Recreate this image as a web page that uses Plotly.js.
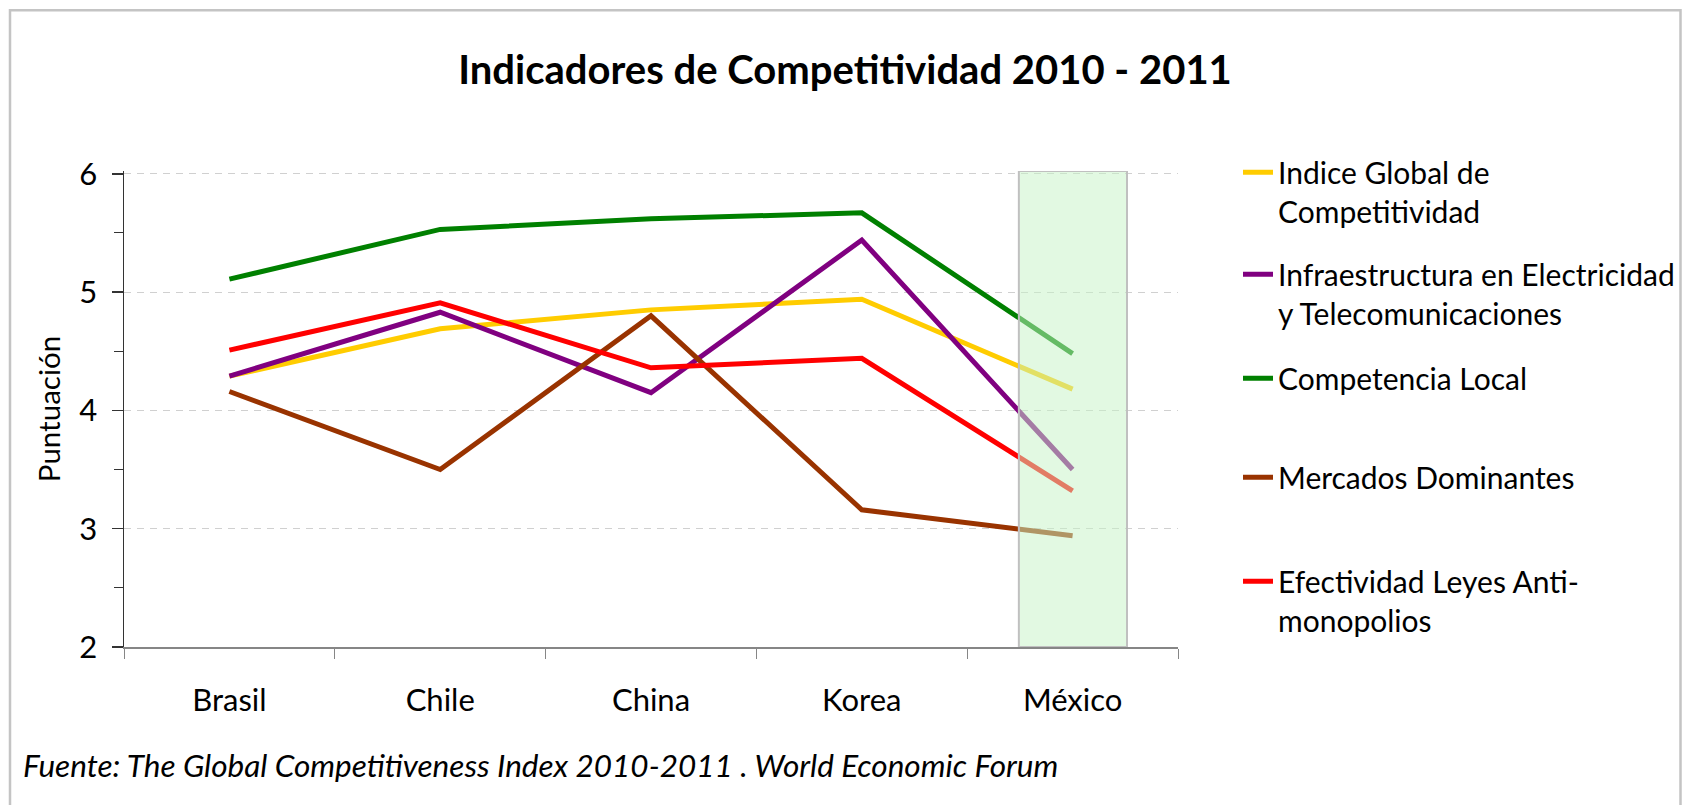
<!DOCTYPE html>
<html>
<head>
<meta charset="utf-8">
<script src="https://cdn.plot.ly/plotly-3.0.1.min.js"></script>
<style>html,body{margin:0;padding:0;background:#fff;}#chart{width:1682px;height:805px;}</style>
</head>
<body>
<div id="chart"></div>
<script>
const categories = ['Brasil', 'Chile', 'China', 'Korea', 'México'];
const indiceGlobal = [4.29, 4.69, 4.85, 4.94, 4.18];
const infraestructura = [4.29, 4.83, 4.15, 5.44, 3.50];
const competenciaLocal = [5.11, 5.53, 5.62, 5.67, 4.48];
const mercadosDominantes = [4.16, 3.50, 4.80, 3.16, 2.94];
const efectividadLeyes = [4.51, 4.91, 4.36, 4.44, 3.32];
const yTickValues = [2, 3, 4, 5, 6];
const yTickLabels = ['2', '3', '4', '5', '6'];

const seriesNames = [
  'Indice Global de<br>Competitividad',
  'Infraestructura en Electricidad<br>y Telecomunicaciones',
  'Competencia Local',
  'Mercados Dominantes',
  'Efectividad Leyes Anti-<br>monopolios'
];
const seriesValues = [indiceGlobal, infraestructura, competenciaLocal, mercadosDominantes, efectividadLeyes];
const seriesColors = ['#FFCC00', '#800080', '#008000', '#993300', '#FF0000'];
const legendIds = ['legend', 'legend2', 'legend3', 'legend4', 'legend5'];
const highlightCategory = 'México';

const FONT = 'Lato, "Open Sans", sans-serif';

const traces = seriesValues.map((vals, i) => ({
  type: 'scatter',
  mode: 'lines',
  x: categories,
  y: vals,
  name: seriesNames[i],
  legend: legendIds[i],
  line: {color: seriesColors[i], width: 5},
  hoverinfo: 'skip'
}));

// plot area pixel geometry
const YMAX = 6.024;
const L = 124, R = 1178, T = 170.7, B = 646.7;
const W = R - L, H = B - T;
const px = p => (p - L) / W;
const py = p => (B - p) / H;

const legendTops = [146, 248, 352, 451, 555];
const layout = {
  width: 1682,
  height: 805,
  margin: {l: L, r: 1682 - R, t: T, b: 805 - B, pad: 0, autoexpand: false},
  paper_bgcolor: '#ffffff',
  plot_bgcolor: '#ffffff',
  font: {family: FONT, size: 30, color: '#000000'},
  title: {
    text: '<b>Indicadores de Competitividad 2010 - 2011</b>',
    font: {family: FONT, size: 40, color: '#000000'},
    x: 845 / 1682,
    xanchor: 'center',
    xref: 'container',
    yref: 'container',
    y: 1 - 70 / 805,
    yanchor: 'middle'
  },
  xaxis: {
    type: 'category',
    range: [-0.5, 4.5],
    showline: true,
    linecolor: '#868686',
    linewidth: 2,
    ticks: 'outside',
    tickson: 'boundaries',
    ticklen: 10,
    tickcolor: '#868686',
    tickwidth: 1,
    showgrid: false,
    zeroline: false,
    automargin: false,
    ticklabelstandoff: 25,
    tickfont: {family: FONT, size: 31, color: '#000000'},
    fixedrange: true
  },
  yaxis: {
    range: [2, YMAX],
    tickvals: yTickValues,
    ticktext: yTickLabels,
    showline: true,
    linecolor: '#333333',
    linewidth: 1.5,
    ticks: 'outside',
    ticklen: 11,
    tickcolor: '#333333',
    tickwidth: 1.5,
    minor: {tickvals: [2.5, 3.5, 4.5, 5.5], ticks: 'outside', ticklen: 9, tickcolor: '#333333', tickwidth: 1, showgrid: false},
    showgrid: true,
    gridcolor: '#d0d0d0',
    gridwidth: 1.2,
    griddash: '7px,6px',
    zeroline: false,
    automargin: false,
    ticklabelstandoff: 8,
    tickfont: {family: FONT, size: 31, color: '#000000'},
    title: {text: 'Puntuación', font: {family: FONT, size: 29.5, color: '#000000'}, standoff: 10},
    fixedrange: true
  },
  shapes: [
    {
      type: 'rect', xref: 'x', yref: 'y',
      x0: categories.indexOf(highlightCategory) - 0.255,
      x1: categories.indexOf(highlightCategory) + 0.258,
      y0: 2, y1: YMAX,
      fillcolor: 'rgba(198,243,198,0.51)',
      line: {color: '#c0c0c0', width: 2},
      layer: 'above'
    },
    {
      type: 'rect', xref: 'paper', yref: 'paper',
      x0: px(10), x1: px(1680.5), y0: py(812), y1: py(10),
      line: {color: '#c4c4c4', width: 2.5},
      fillcolor: 'rgba(0,0,0,0)',
      layer: 'below'
    }
  ],
  annotations: [
    {
      xref: 'paper', yref: 'paper',
      x: px(21), y: py(765),
      xanchor: 'left', yanchor: 'middle',
      text: '<i>Fuente: The Global Competitiveness Index 2010-2011 . World Economic Forum</i>',
      showarrow: false,
      font: {family: FONT, size: 31.5, color: '#000000'}
    }
  ],
  showlegend: true
};

legendIds.forEach((id, i) => {
  layout[id] = {
    x: px(1238),
    xanchor: 'left',
    y: py(legendTops[i]),
    yanchor: 'top',
    valign: 'top',
    bgcolor: 'rgba(0,0,0,0)',
    borderwidth: 0,
    font: {family: FONT, size: 30, color: '#000000'},
    itemclick: false,
    itemdoubleclick: false
  };
});

Plotly.newPlot('chart', traces, layout, {displayModeBar: false, staticPlot: true});
</script>
</body>
</html>
